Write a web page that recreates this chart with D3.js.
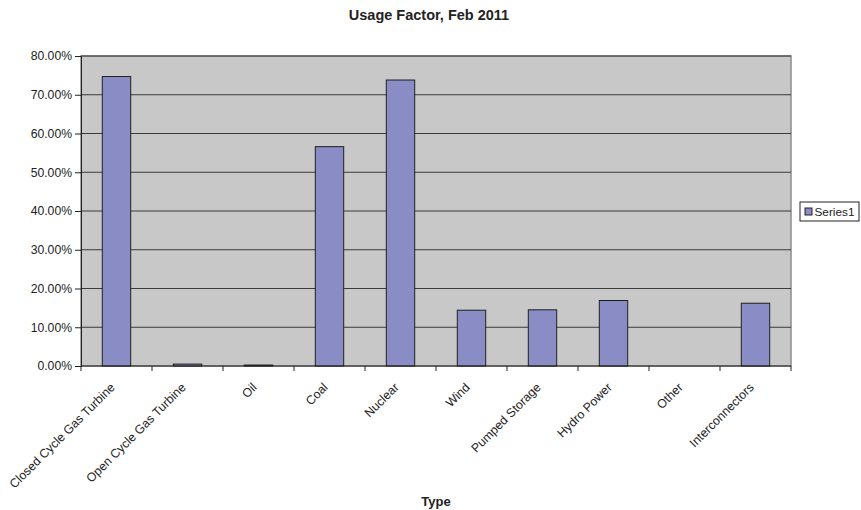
<!DOCTYPE html>
<html>
<head>
<meta charset="utf-8">
<script src="https://cdn.jsdelivr.net/npm/d3@7"></script>
<style>
  html, body { margin: 0; padding: 0; background: #fff; }
  svg { display: block; font-family: "Liberation Sans", Arial, sans-serif; }
</style>
</head>
<body>
<svg id="chart" width="861" height="510"></svg>
<script>
// Generation types and their usage factor for February 2011
const categories = [
  "Closed Cycle Gas Turbine", "Open Cycle Gas Turbine", "Oil", "Coal", "Nuclear",
  "Wind", "Pumped Storage", "Hydro Power", "Other", "Interconnectors"
];
const series1 = [0.747, 0.005, 0.0025, 0.566, 0.738, 0.144, 0.145, 0.169, 0, 0.162];
const yTicks = [0, 0.1, 0.2, 0.3, 0.4, 0.5, 0.6, 0.7, 0.8];
const seriesName = "Series1";
const titleText = "Usage Factor, Feb 2011";
const xTitleText = "Type";

const svg = d3.select("#chart");
const plot = { left: 81, right: 791, top: 56, bottom: 366 };

const x = d3.scaleBand()
  .domain(categories)
  .range([plot.left, plot.right])
  .paddingInner(0.6)
  .paddingOuter(0.3);

const y = d3.scaleLinear()
  .domain([0, 0.8])
  .range([plot.bottom, plot.top]);

// plot background
svg.append("rect")
  .attr("x", plot.left).attr("y", plot.top)
  .attr("width", plot.right - plot.left).attr("height", plot.bottom - plot.top)
  .attr("fill", "#c8c8c9")
  .attr("stroke", "#8c8c8c").attr("stroke-width", 1.5);

// horizontal gridlines
svg.append("g")
  .selectAll("line")
  .data(yTicks.slice(1))
  .join("line")
  .attr("x1", plot.left).attr("x2", plot.right)
  .attr("y1", d => y(d)).attr("y2", d => y(d))
  .attr("stroke", "#3a3a3a").attr("stroke-width", 1);

// bars
svg.append("g")
  .selectAll("rect")
  .data(categories.map((c, i) => ({ c, v: series1[i] })))
  .join("rect")
  .attr("x", d => x(d.c))
  .attr("width", x.bandwidth())
  .attr("y", d => y(d.v))
  .attr("height", d => y(0) - y(d.v))
  .attr("fill", "#8a8cc5")
  .attr("stroke", "#1e1e1e").attr("stroke-width", 1)
  .attr("display", d => d.v > 0 ? null : "none");

// y axis
const yAxis = d3.axisLeft(y)
  .tickValues(yTicks)
  .tickSize(6)
  .tickPadding(3)
  .tickFormat(d3.format(".2%"));
const yg = svg.append("g")
  .attr("transform", `translate(${plot.left},0)`)
  .call(yAxis);
yg.select(".domain").attr("stroke", "#222");
yg.selectAll(".tick line").attr("stroke", "#222");
yg.selectAll(".tick text")
  .attr("font-size", 12.2)
  .attr("font-family", "Liberation Sans, Arial, sans-serif")
  .attr("fill", "#222");

// x axis line and ticks at category boundaries
const step = x.step();
const gap = step - x.bandwidth();
const boundaries = categories.map(c => x(c) - gap / 2).concat([x(categories[categories.length - 1]) + x.bandwidth() + gap / 2]);
const xg = svg.append("g");
xg.append("line")
  .attr("x1", plot.left).attr("x2", plot.right)
  .attr("y1", plot.bottom).attr("y2", plot.bottom)
  .attr("stroke", "#222").attr("stroke-width", 1);
xg.selectAll("line.tick")
  .data(boundaries)
  .join("line")
  .attr("class", "tick")
  .attr("x1", d => d).attr("x2", d => d)
  .attr("y1", plot.bottom).attr("y2", plot.bottom + 5)
  .attr("stroke", "#222");

// rotated category labels
xg.selectAll("text")
  .data(categories)
  .join("text")
  .attr("transform", c => `translate(${x(c) + x.bandwidth() / 2 - 4},${plot.bottom + 19}) rotate(-45)`)
  .attr("text-anchor", "end")
  .attr("dy", "0.35em")
  .attr("font-size", 12.3)
  .attr("fill", "#222")
  .text(c => c);

// title
svg.append("text")
  .attr("x", 429).attr("y", 20)
  .attr("text-anchor", "middle")
  .attr("font-size", 14.5)
  .attr("font-weight", "bold")
  .attr("fill", "#222")
  .text(titleText);

// x axis title
svg.append("text")
  .attr("x", 436).attr("y", 506)
  .attr("text-anchor", "middle")
  .attr("font-size", 13)
  .attr("font-weight", "bold")
  .attr("fill", "#222")
  .text(xTitleText);

// legend
const legend = svg.append("g").attr("transform", "translate(800,202)");
legend.append("rect")
  .attr("width", 59).attr("height", 19)
  .attr("fill", "#fff").attr("stroke", "#222").attr("stroke-width", 1);
legend.append("rect")
  .attr("x", 5).attr("y", 6).attr("width", 7).attr("height", 7)
  .attr("fill", "#8a8cc5").attr("stroke", "#222");
legend.append("text")
  .attr("x", 14.5).attr("y", 14)
  .attr("font-size", 11.8)
  .attr("fill", "#222")
  .text(seriesName);
</script>
</body>
</html>
